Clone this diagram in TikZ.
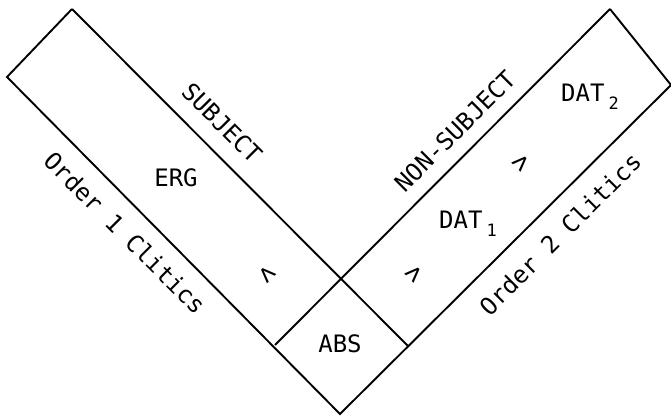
\documentclass[tikz,border=0pt]{standalone}
\usepackage{fontspec}
\newfontfamily\plotfont{DejaVu Sans Mono}
\begin{document}
\begin{tikzpicture}[x=1pt,y=-1pt, line width=1.9pt, line join=miter,
  lbl/.style={font=\plotfont\fontsize{24}{28}\selectfont, inner sep=0pt},
  rel/.style={font=\plotfont\fontsize{27}{30}\selectfont, inner sep=0pt}]
\useasboundingbox (0,0) rectangle (671,417);
% corners
\coordinate (L) at (7,77);
\coordinate (LT) at (72,9);
\coordinate (B) at (340,414);
\coordinate (R) at (671,85);
\coordinate (RT) at (610,9);
\coordinate (AL) at (275,345);
\coordinate (AR) at (408,346);
% outline
\draw (LT) -- (L) -- (B) -- (R) -- (RT);
\draw (LT) -- (AR);
\draw (RT) -- (AL);
% labels
\node[lbl, rotate=-45] (subj) at (222,123) {SUBJECT};
\node[lbl] (erg) at (176,178) {ERG};
\node[lbl, rotate=-45] (ord1) at (125,233) {Order 1 Clitics};
\node[rel, rotate=-45] (lt) at (267,275) {<};
\node[lbl] (abs) at (340,344) {ABS};
\node[rel, rotate=45] (gt1) at (415,274) {>};
\node[rel, rotate=45] (gt2) at (522,163) {>};
\node[lbl, rotate=45] (nonsubj) at (455,131) {NON-SUBJECT};
\node[lbl] (dat2) at (590,97) {DAT\,\raisebox{-0.35em}{\fontsize{17}{17}\selectfont 2}};
\node[lbl] (dat1) at (468,224) {DAT\,\raisebox{-0.35em}{\fontsize{17}{17}\selectfont 1}};
\node[lbl, rotate=45] (ord2) at (560,234) {Order 2 Clitics};
\end{tikzpicture}
\end{document}
